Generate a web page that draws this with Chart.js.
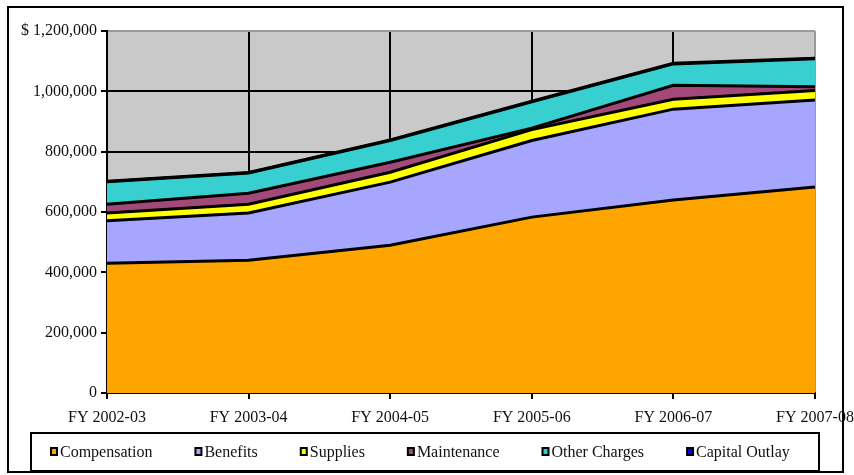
<!DOCTYPE html>
<html>
<head>
<meta charset="utf-8">
<script src="https://cdn.jsdelivr.net/npm/chart.js@4/dist/chart.umd.min.js"></script>
<style>
  html, body { margin: 0; padding: 0; background: #ffffff; }
  #wrap { width: 854px; height: 475px; position: relative; }
</style>
</head>
<body>
<div id="wrap"><canvas id="chart" width="854" height="475"></canvas></div>
<script>
// Fiscal years along the category axis
const categories = ['FY 2002-03', 'FY 2003-04', 'FY 2004-05', 'FY 2005-06', 'FY 2006-07', 'FY 2007-08'];

// Expenditure by type, in dollars (stacked bottom to top)
const compensation  = [430000, 440000, 490000, 583000, 640000, 683000];
const benefits      = [141000, 157000, 209000, 254000, 301000, 288000];
const supplies      = [26000, 29000, 33000, 36000, 33000, 32000];
const maintenance   = [29000, 36000, 33000, 5000, 46000, 12000];
const otherCharges  = [74000, 67000, 72000, 87000, 71000, 93000];
const capitalOutlay = [2000, 2000, 2000, 2000, 2000, 2000];

const seriesNames  = ['Compensation', 'Benefits', 'Supplies', 'Maintenance', 'Other Charges', 'Capital Outlay'];
const seriesColors = ['#FFA500', '#A6A6FF', '#FFFF00', '#A3497A', '#37CFCF', '#0000FF'];

// Value-axis tick labels
const yTickValues = [0, 200000, 400000, 600000, 800000, 1000000, 1200000];
const yTickLabels = ['0', '200,000', '400,000', '600,000', '800,000', '1,000,000', '$ 1,200,000'];

const FONT = 'Liberation Serif';
const seriesValues = [compensation, benefits, supplies, maintenance, otherCharges, capitalOutlay];

const datasets = seriesValues.map((vals, i) => ({
  label: seriesNames[i],
  data: vals,
  backgroundColor: seriesColors[i],
  borderColor: '#000000',
  borderWidth: 3,
  pointRadius: 0,
  pointHoverRadius: 0,
  tension: 0,
  fill: i === 0 ? 'origin' : '-1'
}));

// Plot background, outer frame and boxed legend
const decorations = {
  id: 'decorations',
  beforeDraw(chart) {
    const { ctx, chartArea: a } = chart;
    ctx.save();
    ctx.fillStyle = '#ffffff';
    ctx.fillRect(0, 0, chart.width, chart.height);
    ctx.fillStyle = '#C9C9C9';
    ctx.fillRect(a.left, a.top, a.right - a.left, a.bottom - a.top);
    ctx.restore();
  },
  afterDraw(chart) {
    const { ctx } = chart;
    ctx.save();
    // outer frame
    ctx.strokeStyle = '#000000';
    ctx.lineWidth = 2;
    ctx.strokeRect(8, 7, 835, 465);

    // legend box
    const box = { x: 31, y: 433, w: 788, h: 38 };
    ctx.lineWidth = 2;
    ctx.strokeRect(box.x, box.y, box.w, box.h);

    ctx.font = '16px "' + FONT + '"';
    ctx.textBaseline = 'alphabetic';
    const gap = 42;
    let x = 50;
    const my = 447;
    chart.data.datasets.forEach(ds => {
      ctx.fillStyle = '#000000';
      ctx.fillRect(x, my, 8, 9);
      ctx.fillStyle = ds.backgroundColor;
      ctx.fillRect(x + 2, my + 2, 4, 5);
      ctx.fillStyle = '#111111';
      ctx.fillText(ds.label, x + 10, 457);
      x += 10 + ctx.measureText(ds.label).width + gap;
    });
    ctx.restore();
  }
};

new Chart(document.getElementById('chart'), {
  type: 'line',
  data: { labels: categories, datasets },
  plugins: [decorations],
  options: {
    responsive: false,
    animation: false,
    devicePixelRatio: 1,
    layout: { padding: { top: 31, right: 39, bottom: 52, left: 0 } },
    plugins: {
      legend: { display: false },
      tooltip: { enabled: false },
      filler: { drawTime: 'beforeDatasetsDraw' }
    },
    scales: {
      x: {
        type: 'category',
        offset: false,
        grid: {
          display: true,
          drawOnChartArea: true,
          color: ctx => (ctx.index === categories.length - 1 ? '#9a9a9a' : '#000000'),
          tickColor: '#000000',
          lineWidth: 2,
          tickLength: 6
        },
        border: { display: true, color: '#000000', width: 2 },
        ticks: {
          color: '#111111',
          font: { family: FONT, size: 16 },
          padding: 9,
          maxRotation: 0,
          autoSkip: false
        },
        afterFit(scale) {
          scale.height = 30;
          scale.paddingLeft = 0;
          scale.paddingRight = 0;
        }
      },
      y: {
        stacked: true,
        min: 0,
        max: 1200000,
        afterBuildTicks(scale) { scale.ticks = yTickValues.map(v => ({ value: v })); },
        grid: {
          color: ctx => (ctx.tick && ctx.tick.value === 1200000 ? '#9a9a9a' : '#000000'),
          tickColor: '#000000',
          lineWidth: 2,
          tickLength: 6
        },
        border: { display: true, color: '#000000', width: 2 },
        ticks: {
          color: '#111111',
          font: { family: FONT, size: 16 },
          padding: 4,
          callback: (v) => yTickLabels[yTickValues.indexOf(v)]
        },
        afterFit(scale) {
          scale.width = 107;
          scale.paddingTop = 0;
          scale.paddingBottom = 0;
        }
      }
    }
  }
});
</script>
</body>
</html>
